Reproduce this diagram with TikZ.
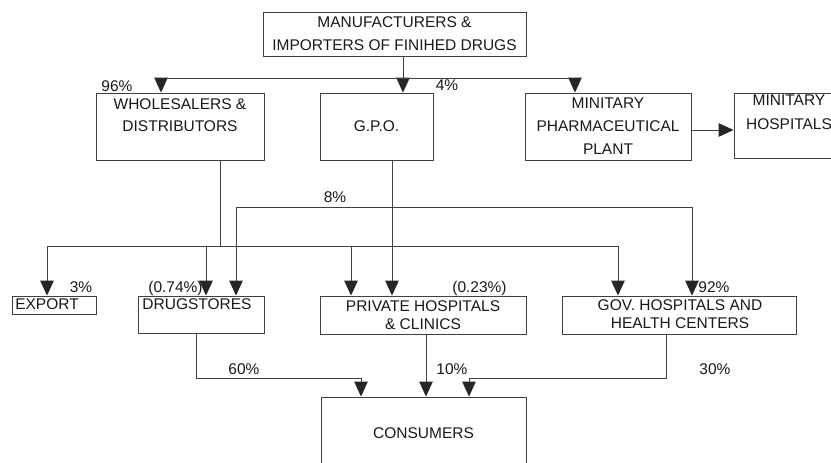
\documentclass[tikz,border=0pt]{standalone}
\usepackage{fontspec}
\setmainfont{Liberation Sans}
\usetikzlibrary{arrows.meta,calc}
\begin{document}
\begin{tikzpicture}[x=1pt,y=-1pt,
  box/.style={draw=black!75, line width=0.9pt, rectangle, inner sep=0pt},
  txt/.style={font=\fontsize{15.5}{#1}\selectfont, text=black!90, inner sep=0pt, align=center, anchor=north},
  txt/.default=22,
  lbl/.style={font=\fontsize{15.5}{18}\selectfont, text=black!90, inner sep=0pt, anchor=north},
  ln/.style={draw=black!75, line width=0.9pt},
  arr/.style={ln, -{Triangle[width=13.5pt,length=15pt,color=black!85]}}]
\useasboundingbox (0,0) rectangle (831,463);
\clip (0,0) rectangle (831,463);
\fill[white] (0,0) rectangle (831,463);

% boxes
\node[box, minimum width=263pt, minimum height=44pt] (mfr) at (394.5,34) {};
\node[box, minimum width=168pt, minimum height=67pt] (whole) at (180,126.5) {};
\node[box, minimum width=113pt, minimum height=67pt] (gpo) at (376.5,126.5) {};
\node[box, minimum width=166pt, minimum height=67pt] (plant) at (608,126.5) {};
\node[box, minimum width=110pt, minimum height=65pt] (hosp) at (789,125.5) {};
\node[box, minimum width=84pt, minimum height=18pt] (export) at (54,305) {};
\node[box, minimum width=126pt, minimum height=37pt] (drug) at (201,314.5) {};
\node[box, minimum width=206pt, minimum height=38pt] (priv) at (423,315) {};
\node[box, minimum width=234pt, minimum height=38pt] (gov) at (679,315) {};
\node[box, minimum width=205pt, minimum height=83pt] (cons) at (423.5,438.5) {};

% box texts
\node[txt=23] (tmfr) at (394.5,16.5) {MANUFACTURERS \&\\IMPORTERS OF FINIHED DRUGS};
\node[txt] (twhole) at (180,98.5) {WHOLESALERS \&\\DISTRIBUTORS};
\node[txt] (tgpo) at (376.5,120.5) {G.P.O.};
\node[txt=23] (tplant) at (608,97.5) {MINITARY\\PHARMACEUTICAL\\PLANT};
\node[txt=24] (thosp) at (789,94.5) {MINITARY\\HOSPITALS};
\node[txt] (texport) at (47,298) {EXPORT};
\node[txt] (tdrug) at (197,298) {DRUGSTORES};
\node[txt=18] (tpriv) at (423,300.5) {PRIVATE HOSPITALS\\\& CLINICS};
\node[txt=18] (tgov) at (680,299.5) {GOV. HOSPITALS AND\\HEALTH CENTERS};
\node[txt] (tcons) at (423.5,427.5) {CONSUMERS};

% percentage labels
\node[lbl] (l96) at (117,80.5) {96\%};
\node[lbl] (l4) at (447,79.5) {4\%};
\node[lbl] (l8) at (335,191.5) {8\%};
\node[lbl] (l3) at (81,281.5) {3\%};
\node[lbl] (l074) at (175.5,281.5) {(0.74\%)};
\node[lbl] (l023) at (479.5,281.5) {(0.23\%)};
\node[lbl] (l92) at (714,281.5) {92\%};
\node[lbl] (l60) at (244,363.5) {60\%};
\node[lbl] (l10) at (452,363.5) {10\%};
\node[lbl] (l30) at (715,363.5) {30\%};

% junctions
\coordinate (jtop) at (403,78);
\coordinate (jw) at (220,246);
\coordinate (jg) at (392,207);
\coordinate (jd) at (196,378);
\coordinate (jgv) at (666,378);

% top level
\draw[arr] (mfr.south -| jtop) -- (gpo.north -| jtop);
\draw[arr] (jtop) -| ([xshift=-19pt]whole.north);
\draw[arr] (jtop) -| ([xshift=-33pt]plant.north);
\draw[arr] ([yshift=-3.5pt]plant.east) -- ([yshift=-3.5pt]plant.east -| hosp.west);

% wholesalers distribution
\draw[ln] (whole.south -| jw) -- (jw);
\draw[arr] (jw) -| ([xshift=-7pt]export.north);
\draw[arr] (jw) -| ([xshift=5pt]drug.north);
\draw[arr] (jw) -| ([xshift=-72pt]priv.north);
\draw[arr] (jw) -| ([xshift=-61pt]gov.north);

% G.P.O. distribution
\draw[arr] (gpo.south -| jg) -- (priv.north -| jg);
\draw[arr] (jg) -| ([xshift=35pt]drug.north);
\draw[arr] (jg) -| ([xshift=13pt]gov.north);

% to consumers
\draw[arr] (drug.south -| jd) -- (jd) -| ([xshift=-62.5pt]cons.north);
\draw[arr] ([xshift=3pt]priv.south) -- ([xshift=3pt]priv.south |- cons.north);
\draw[arr] (gov.south -| jgv) -- (jgv) -| ([xshift=45.5pt]cons.north);
\end{tikzpicture}
\end{document}
